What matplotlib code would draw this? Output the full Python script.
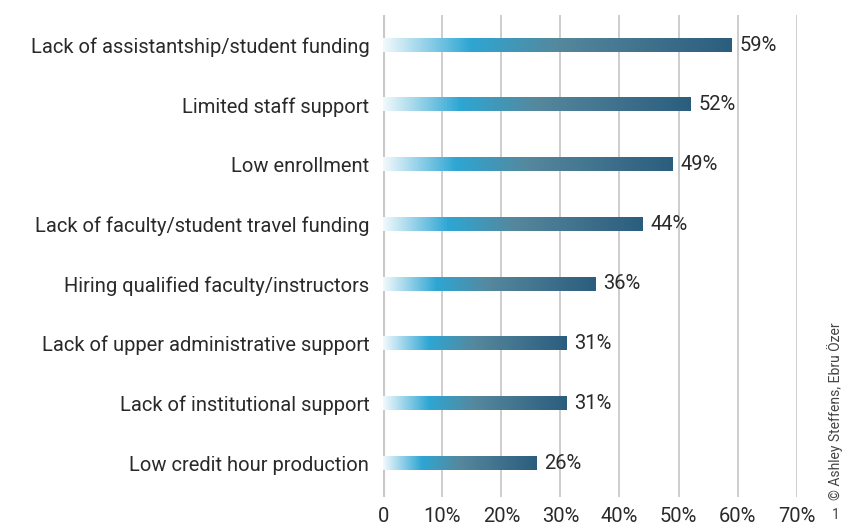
import numpy as np
import matplotlib
matplotlib.use("Agg")
import matplotlib.pyplot as plt
from matplotlib.colors import LinearSegmentedColormap

categories = [
    "Lack of assistantship/student funding",
    "Limited staff support",
    "Low enrollment",
    "Lack of faculty/student travel funding",
    "Hiring qualified faculty/instructors",
    "Lack of upper administrative support",
    "Lack of institutional support",
    "Low credit hour production",
]
values = [59, 52, 49, 44, 36, 31, 31, 26]
xticks = [0, 10, 20, 30, 40, 50, 60, 70]
xtick_labels = ["0", "10%", "20%", "30%", "40%", "50%", "60%", "70%"]

plt.rcParams["font.family"] = ["Roboto", "DejaVu Sans"]

cmap = LinearSegmentedColormap.from_list(
    "bar",
    [
        (0.0, "#f2f9fc"),
        (0.25, "#2ea6d3"),
        (0.5, "#55889d"),
        (1.0, "#2b5d7e"),
    ],
)
grad = np.linspace(0, 1, 256).reshape(1, -1)

fig = plt.figure(figsize=(8.44, 5.25), dpi=100)
ax = fig.add_axes([0.454, 0.053, 0.49, 0.918])

# gridlines
for t in xticks:
    ax.axvline(t, color="#c9c9c9", lw=3 if t == 0 else 1.3, zorder=1)

bar_h = 0.22
for i, v in enumerate(values):
    ax.imshow(
        grad,
        cmap=cmap,
        aspect="auto",
        extent=(0, v, i + bar_h / 2, i - bar_h / 2),
        zorder=2,
        interpolation="bicubic",
    )
    ax.text(v + 1.3, i, f"{v}%", va="center", ha="left",
            fontsize=14.5, color="#2a2a2a")

ax.set_xlim(0, 70)
ax.set_ylim(len(categories) - 0.43, -0.5)
ax.set_yticks(range(len(categories)))
ax.set_yticklabels(categories, fontsize=14.5, color="#2a2a2a")
ax.set_xticks(xticks)
ax.set_xticklabels(xtick_labels, fontsize=14.5, color="#2a2a2a")
ax.tick_params(axis="y", length=0, pad=10)
ax.tick_params(axis="x", length=0, pad=7)
for s in ax.spines.values():
    s.set_visible(False)

fig.text(0.980, 0.048, "© Ashley Steffens, Ebru Özer", rotation=90,
         fontsize=10, color="#444444", ha="left", va="bottom")
fig.text(0.990, 0.019, "1", fontsize=10, color="#444444",
         ha="center", va="center")

fig.savefig("out.png", dpi=100)
